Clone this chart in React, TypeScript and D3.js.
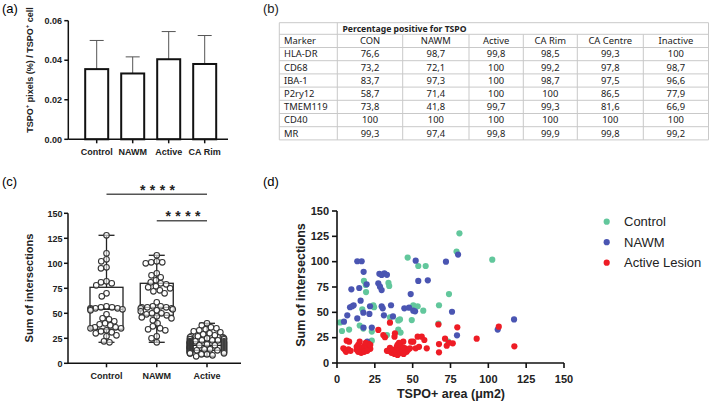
import React from 'react';
import * as d3 from 'd3';

// ---------- Panel (a) data ----------
const A_CATS = ['Control', 'NAWM', 'Active', 'CA Rim'];
const A_MEANS = [0.0355, 0.0333, 0.0405, 0.0381];
const A_UPPER = [0.05, 0.0417, 0.0545, 0.0525];
const A_TICKS = [0, 0.02, 0.04, 0.06];

// ---------- Panel (b) data ----------
const T_HEADER = 'Percentage positive for TSPO';
const T_COLS = ['CON', 'NAWM', 'Active', 'CA Rim', 'CA Centre', 'Inactive'];
const T_MARKERS = ['HLA-DR', 'CD68', 'IBA-1', 'P2ry12', 'TMEM119', 'CD40', 'MR'];
const T_CON = ['76,6', '73,2', '83,7', '58,7', '73,8', '100', '99,3'];
const T_NAWM = ['98,7', '72,1', '97,3', '71,4', '41,8', '100', '97,4'];
const T_ACTIVE = ['99,8', '100', '100', '100', '99,7', '100', '99,8'];
const T_CARIM = ['98,5', '99,2', '98,7', '100', '99,3', '100', '99,9'];
const T_CACENTRE = ['99,3', '97,8', '97,5', '86,5', '81,6', '100', '99,8'];
const T_INACTIVE = ['100', '98,7', '96,6', '77,9', '66,9', '100', '99,2'];

// ---------- Panel (c) data ----------
const C_GROUPS = ['Control', 'NAWM', 'Active'];
const C_MIN = [21, 21, 7];
const C_Q1 = [34, 48, 13];
const C_MED = [54, 56, 18];
const C_Q3 = [76, 80, 21.5];
const C_MAX = [128, 108, 40];
const C_TICKS = [0, 25, 50, 75, 100, 125, 150];
const C_CONTROL = [128, 110, 104, 102, 96, 95, 82, 81, 80, 78, 70, 67, 57, 56, 56, 55, 55, 55, 54, 54, 53, 49, 45, 44, 42, 40, 39, 38, 36, 36, 35, 35, 33, 32, 31, 30, 28, 27, 22, 21];
const C_NAWM = [108, 102, 101, 101, 100, 90, 88, 86, 83, 81, 80, 79, 77, 76, 75, 73, 72, 70, 61, 57, 57, 56, 56, 56, 55, 55, 54, 53, 52, 50, 50, 49, 48, 47, 46, 45, 43, 40, 37, 35, 34, 33, 27, 25, 21];
const C_ACTIVE = [40, 38, 36, 35, 34, 33, 32, 31, 30, 29, 28, 27, 27, 26, 26, 25, 25, 24, 24, 24, 23, 23, 23, 22, 22, 22, 22, 21, 21, 21, 21, 20, 20, 20, 20, 19, 19, 19, 19, 18, 18, 18, 18, 18, 17, 17, 17, 17, 16, 16, 16, 16, 15, 15, 15, 15, 15, 14, 14, 14, 14, 14, 13, 13, 13, 13, 13, 12, 12, 12, 12, 11, 11, 11, 10, 10, 10, 9, 9, 8, 7];

// ---------- Panel (d) data ----------
const D_TICKS = [0, 25, 50, 75, 100, 125, 150];
const D_CONTROL: [number, number][] = [[2, 40], [3.3, 31.6], [8, 33], [15, 37], [16.7, 53], [17.8, 81], [19, 77], [19.2, 70], [17.4, 34], [23, 31], [23, 22], [24, 57], [24.5, 55], [34, 79], [34.5, 76], [33, 27.6], [35, 45], [40.5, 42], [41.6, 43], [40.5, 33], [42, 30], [46.7, 104], [49.4, 42.4], [50.4, 57], [53.3, 56], [53.7, 95.7], [58.6, 95.7], [57, 51.6], [67.4, 57], [67, 39], [74, 68], [73.5, 21], [79, 110], [80.9, 128], [102.6, 102]];
const D_NAWM: [number, number][] = [[4.6, 40.8], [6.8, 47], [8.6, 55], [10, 56], [11, 57], [9.5, 72.7], [13.4, 44], [13.4, 100.4], [16.3, 100.4], [14.7, 74], [15.6, 61.5], [17.4, 49.7], [17.6, 90], [19.6, 77.7], [17.5, 35], [20, 21], [21.4, 48.4], [21.8, 56], [23, 35], [27.3, 78.7], [28.4, 75.3], [29.5, 72], [28, 88], [29.5, 86.9], [31.3, 88.5], [33, 87], [29.5, 56], [30.2, 54], [31, 47], [35.7, 57], [37, 46], [44.5, 54], [47.6, 54.6], [48.7, 68], [50.4, 51.6], [51.6, 51], [52, 101], [53.7, 81], [60, 81.6], [72, 100], [76, 50.6], [79.3, 27.3], [80, 107], [106.2, 33], [117, 43]];
const D_ACTIVE: [number, number][] = [[5.3, 12.8], [4.2, 14.5], [7.5, 13.5], [6.4, 22], [8, 21], [6, 11], [9, 12], [13, 13], [14, 18], [15, 21], [16, 15], [17, 12], [18, 17], [19, 13], [20, 16], [21, 19], [22, 14], [14, 11], [16, 10], [19, 20], [13, 16], [18, 11], [20, 12], [22, 18], [27.3, 32.6], [30.6, 27.6], [31.7, 25.4], [35, 39.8], [38.3, 29.3], [34, 12], [35, 15], [36, 10], [37, 13], [38, 9], [39, 11], [39.5, 16], [40, 8], [41, 13], [42, 10], [43, 12], [44, 15], [43.8, 21], [45, 14.5], [46, 11], [47, 13], [48.2, 14.5], [49, 21], [50.4, 21], [52, 14.5], [53.3, 26], [54.2, 16], [56, 26], [57.7, 22.7], [59.3, 14.5], [38, 26], [33, 12], [40, 18], [42, 17], [44, 9], [41, 20], [67, 38], [67.4, 18.7], [67.4, 10.5], [71.4, 24], [72.5, 17], [74, 20], [76.5, 19.4], [79.5, 35.2], [92.3, 24], [106.9, 35.8], [117.2, 16.5]];
const D_SERIES = ['Control', 'NAWM', 'Active Lesion'];
const D_COLORS = ['#62c79c', '#4a55b2', '#ee1c25'];

const FONT = '"Liberation Sans", Arial, Helvetica, sans-serif';
const TFONT = '"Noto Sans", "Open Sans", sans-serif';

function swarm(values: number[], y: (v: number) => number, d: number, maxHalf: number) {
  const pts = values.map((v) => ({ v, y: y(v), x: 0 })).sort((a, b) => a.y - b.y);
  const placed: { x: number; y: number }[] = [];
  for (const p of pts) {
    const intervals: [number, number][] = [];
    for (const q of placed) {
      const dy = Math.abs(q.y - p.y);
      if (dy < d) {
        const w = Math.sqrt(d * d - dy * dy);
        intervals.push([q.x - w, q.x + w]);
      }
    }
    const cands = [0];
    intervals.forEach(([a, b]) => { cands.push(a, b); });
    cands.sort((a, b) => Math.abs(a) - Math.abs(b) || a - b);
    let chosen = 0;
    for (const c of cands) {
      if (intervals.every(([a, b]) => c <= a + 1e-6 || c >= b - 1e-6)) { chosen = c; break; }
    }
    p.x = Math.max(-maxHalf, Math.min(maxHalf, chosen));
    placed.push({ x: p.x, y: p.y });
  }
  return pts;
}

function PanelA() {
  const y = d3.scaleLinear().domain([0, 0.06]).range([139.3, 20.7]);
  const x = d3.scalePoint<string>().domain(A_CATS).range([96.7, 204.7]);
  const bw = 23;
  return (
    <g fontFamily={FONT}>
      <text x={2} y={13} fontSize={13}>(a)</text>
      {A_CATS.map((c, i) => {
        const cx = x(c)!;
        return (
          <g key={c}>
            <line x1={cx} x2={cx} y1={y(A_MEANS[i])} y2={y(A_UPPER[i])} stroke="#555" strokeWidth={1} />
            <line x1={cx - 7} x2={cx + 7} y1={y(A_UPPER[i])} y2={y(A_UPPER[i])} stroke="#555" strokeWidth={1} />
            <rect x={cx - bw / 2} y={y(A_MEANS[i])} width={bw} height={y(0) - y(A_MEANS[i])} fill="#fff" stroke="#111" strokeWidth={2} />
            <line x1={cx} x2={cx} y1={y(0)} y2={y(0) + 4} stroke="#111" strokeWidth={1.5} />
            <text x={cx} y={155} fontSize={9} fontWeight="bold" textAnchor="middle" fill="#222">{c}</text>
          </g>
        );
      })}
      <line x1={68.3} x2={68.3} y1={y(0.06)} y2={y(0)} stroke="#111" strokeWidth={1.5} />
      <line x1={68.3} x2={228} y1={y(0)} y2={y(0)} stroke="#111" strokeWidth={1.5} />
      {A_TICKS.map((t) => (
        <g key={t}>
          <line x1={64.3} x2={68.3} y1={y(t)} y2={y(t)} stroke="#111" strokeWidth={1.5} />
          <text x={62} y={y(t) + 3.2} fontSize={9} fontWeight="bold" textAnchor="end" fill="#222">{d3.format('.2f')(t)}</text>
        </g>
      ))}
      <text transform="translate(33,70) rotate(-90)" fontSize={9} fontWeight="bold" textAnchor="middle" fill="#222">
        TSPO<tspan dy={-4} fontSize={6}>+</tspan><tspan dy={4}> pixels (%) / TSPO</tspan><tspan dy={-4} fontSize={6}>+</tspan><tspan dy={4}> cell</tspan>
      </text>
    </g>
  );
}

function PanelB() {
  const left = 279.3;
  const colX = [279.3, 337.3, 402.7, 469, 523.3, 577.3, 643.3, 708.5];
  const top = 22.7;
  const headH = 11.6;
  const rowH = 13.2;
  const cols = [T_CON, T_NAWM, T_ACTIVE, T_CARIM, T_CACENTRE, T_INACTIVE];
  const nRows = T_MARKERS.length + 1;
  const rowY = d3.range(nRows + 1).map((i) => top + headH + i * rowH);
  const bottom = rowY[nRows];
  const stroke = '#c9c9c9';
  const fs = 9.4;
  const base = rowH - 3.4;
  return (
    <g fontFamily={TFONT} fill="#222">
      <text x={263} y={13} fontSize={13} fontFamily={FONT}>(b)</text>
      <line x1={left} x2={708.5} y1={top} y2={top} stroke={stroke} />
      {rowY.map((yy, i) => <line key={i} x1={left} x2={708.5} y1={yy} y2={yy} stroke={stroke} />)}
      {colX.map((xx, i) => (
        <line key={i} x1={xx} x2={xx} y1={i === 0 || i === 1 || i === colX.length - 1 ? top : rowY[0]} y2={bottom} stroke={stroke} />
      ))}
      <text x={342.5} y={top + headH - 2.3} fontSize={9.6} fontWeight="bold" textLength={124} lengthAdjust="spacingAndGlyphs">{T_HEADER}</text>
      <text x={284} y={rowY[0] + base} fontSize={fs}>Marker</text>
      {T_COLS.map((c, j) => (
        <text key={c} x={(colX[j + 1] + colX[j + 2]) / 2} y={rowY[0] + base} fontSize={fs} textAnchor="middle">{c}</text>
      ))}
      {T_MARKERS.map((m, i) => (
        <g key={m}>
          <text x={284} y={rowY[i + 1] + base} fontSize={fs}>{m}</text>
          {cols.map((col, j) => (
            <text key={j} x={(colX[j + 1] + colX[j + 2]) / 2} y={rowY[i + 1] + base} fontSize={fs} textAnchor="middle">{col[i]}</text>
          ))}
        </g>
      ))}
    </g>
  );
}

function PanelC() {
  const y = d3.scaleLinear().domain([0, 150]).range([363.3, 213.3]);
  const x = d3.scalePoint<string>().domain(C_GROUPS).range([106.5, 207]);
  const bw = 33;
  const sets = [C_CONTROL, C_NAWM, C_ACTIVE];
  const halfW = [16, 16, 17];
  return (
    <g fontFamily={FONT}>
      <text x={2} y={186} fontSize={13}>(c)</text>
      {C_GROUPS.map((g, i) => {
        const cx = x(g)!;
        const pts = swarm(sets[i], y, 5.6, halfW[i]);
        return (
          <g key={g}>
            <line x1={cx} x2={cx} y1={y(C_MAX[i])} y2={y(C_Q3[i])} stroke="#222" strokeWidth={1.3} />
            <line x1={cx} x2={cx} y1={y(C_Q1[i])} y2={y(C_MIN[i])} stroke="#222" strokeWidth={1.3} />
            <line x1={cx - 8} x2={cx + 8} y1={y(C_MAX[i])} y2={y(C_MAX[i])} stroke="#222" strokeWidth={1.3} />
            <line x1={cx - 8} x2={cx + 8} y1={y(C_MIN[i])} y2={y(C_MIN[i])} stroke="#222" strokeWidth={1.3} />
            <rect x={cx - bw / 2} y={y(C_Q3[i])} width={bw} height={y(C_Q1[i]) - y(C_Q3[i])} fill="none" stroke="#222" strokeWidth={1.3} />
            <line x1={cx - bw / 2} x2={cx + bw / 2} y1={y(C_MED[i])} y2={y(C_MED[i])} stroke="#222" strokeWidth={1.3} />
            {pts.map((p, k) => (
              <circle key={k} cx={cx + p.x} cy={p.y} r={2.8} fill="#fff" fillOpacity={0.6} stroke="#333" strokeWidth={1.1} />
            ))}
            <line x1={cx} x2={cx} y1={y(0)} y2={y(0) + 4} stroke="#111" strokeWidth={1.5} />
            <text x={cx} y={378.5} fontSize={9} fontWeight="bold" textAnchor="middle" fill="#222">{g}</text>
          </g>
        );
      })}
      <line x1={68} x2={68} y1={y(150)} y2={y(0)} stroke="#111" strokeWidth={1.5} />
      <line x1={68} x2={241} y1={y(0)} y2={y(0)} stroke="#111" strokeWidth={1.5} />
      {C_TICKS.map((t) => (
        <g key={t}>
          <line x1={64} x2={68} y1={y(t)} y2={y(t)} stroke="#111" strokeWidth={1.5} />
          <text x={62.5} y={y(t) + 3.2} fontSize={9} fontWeight="bold" textAnchor="end" fill="#222">{t}</text>
        </g>
      ))}
      <text transform="translate(33,288) rotate(-90)" fontSize={11} fontWeight="bold" textAnchor="middle" fill="#222">Sum of intersections</text>
      <line x1={x('Control')!} x2={x('Active')!} y1={194.3} y2={194.3} stroke="#555" strokeWidth={1.5} />
      <line x1={x('NAWM')!} x2={x('Active')!} y1={220.7} y2={220.7} stroke="#555" strokeWidth={1.5} />
      <text x={140} y={194.5} fontSize={14} fontWeight="bold" letterSpacing={4.4} fill="#222">****</text>
      <text x={165.5} y={221} fontSize={14} fontWeight="bold" letterSpacing={4.4} fill="#222">****</text>
    </g>
  );
}

function PanelD() {
  const x = d3.scaleLinear().domain([0, 150]).range([337, 564]);
  const y = d3.scaleLinear().domain([0, 150]).range([363, 211]);
  const series = [D_CONTROL, D_NAWM, D_ACTIVE];
  return (
    <g fontFamily={FONT}>
      <text x={263} y={186} fontSize={13}>(d)</text>
      {series.map((s, i) => (
        <g key={i}>
          {s.map(([a, b], k) => (
            <circle key={k} cx={x(a)} cy={y(b)} r={3.1} fill={D_COLORS[i]} />
          ))}
        </g>
      ))}
      <line x1={x(0)} x2={x(0)} y1={y(150)} y2={y(0)} stroke="#111" strokeWidth={1.6} />
      <line x1={x(0)} x2={x(150)} y1={y(0)} y2={y(0)} stroke="#111" strokeWidth={1.6} />
      {D_TICKS.map((t) => (
        <g key={'y' + t}>
          <line x1={x(0) - 5} x2={x(0)} y1={y(t)} y2={y(t)} stroke="#111" strokeWidth={1.6} />
          <text x={x(0) - 8} y={y(t) + 3.8} fontSize={11} fontWeight="bold" textAnchor="end" fill="#222">{t}</text>
        </g>
      ))}
      {D_TICKS.map((t) => (
        <g key={'x' + t}>
          <line x1={x(t)} x2={x(t)} y1={y(0)} y2={y(0) + 5} stroke="#111" strokeWidth={1.6} />
          <text x={x(t)} y={383} fontSize={11} fontWeight="bold" textAnchor="middle" fill="#222">{t}</text>
        </g>
      ))}
      <text transform="translate(305,285) rotate(-90)" fontSize={12.5} fontWeight="bold" textAnchor="middle" fill="#222">Sum of intersections</text>
      <text x={451} y={397.5} fontSize={12.5} fontWeight="bold" textAnchor="middle" fill="#222">TSPO+ area (μm2)</text>
      {D_SERIES.map((s, i) => (
        <g key={s}>
          <circle cx={606.7} cy={221.7 + i * 20.5} r={3.1} fill={D_COLORS[i]} />
          <text x={624} y={221.7 + i * 20.5 + 4.5} fontSize={13} fill="#222">{s}</text>
        </g>
      ))}
    </g>
  );
}

export default function App() {
  return (
    <div style={{ position: 'absolute', left: 0, top: 0 }}>
      <svg width={709} height={403} viewBox="0 0 709 403" style={{ display: 'block', background: '#fff' }}>
        <rect width={709} height={403} fill="#fff" />
        <PanelA />
        <PanelB />
        <PanelC />
        <PanelD />
      </svg>
    </div>
  );
}
